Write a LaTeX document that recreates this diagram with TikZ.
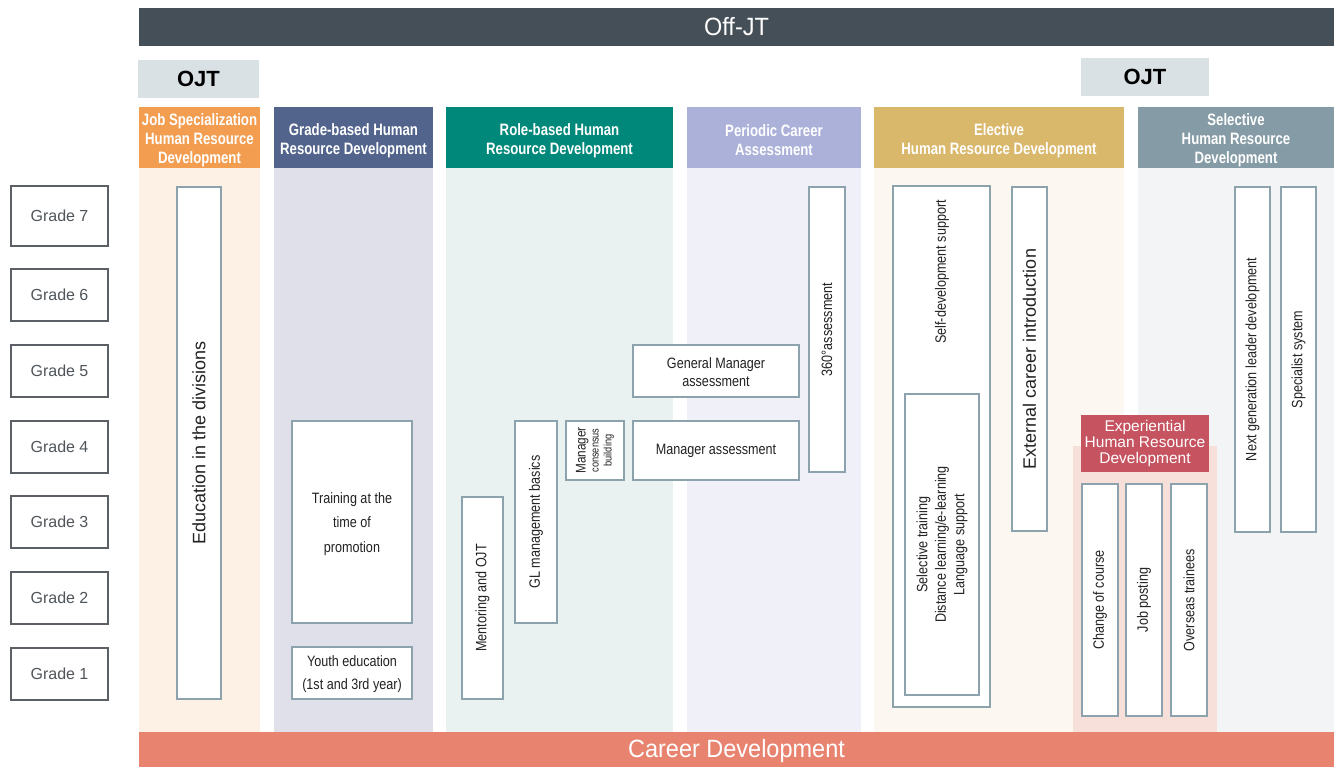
\documentclass[tikz,border=0pt]{standalone}
\usepackage{fontspec}
\setmainfont{Liberation Sans}
\newfontfamily\cnd[FakeStretch=0.84]{Liberation Sans}
\newfontfamily\hdf[FakeStretch=0.8]{Liberation Sans}
\newfontfamily\widef[FakeStretch=0.94]{Liberation Sans}
\definecolor{offjtc}{HTML}{454F57}
\definecolor{ojtc}{HTML}{DAE1E4}
\definecolor{jobh}{HTML}{F39D51}
\definecolor{jobb}{HTML}{FDF1E5}
\definecolor{grdh}{HTML}{52648C}
\definecolor{grdb}{HTML}{E0E0EA}
\definecolor{roleh}{HTML}{00897A}
\definecolor{roleb}{HTML}{E9F2F1}
\definecolor{perh}{HTML}{ABB1D9}
\definecolor{perb}{HTML}{F0F0F9}
\definecolor{elh}{HTML}{D9B76B}
\definecolor{elb}{HTML}{FCF7F1}
\definecolor{selh}{HTML}{859BA6}
\definecolor{selb}{HTML}{F3F4F6}
\definecolor{exh}{HTML}{C55360}
\definecolor{exb}{HTML}{F8E0DA}
\definecolor{carc}{HTML}{E88370}
\definecolor{boxc}{HTML}{8CA3AE}
\definecolor{grdbox}{HTML}{5A6066}
\definecolor{grdtxt}{HTML}{4F555A}
\definecolor{txtc}{HTML}{222222}
\begin{document}
\begin{tikzpicture}[x=1pt,y=-1pt,
  bar/.style={fill=#1, inner sep=0pt, text=white},
  hdr/.style={fill=#1, inner sep=0pt, minimum height=61pt},
  hdrtxt/.style={inner sep=0pt, text=white, align=center, yshift=-3pt,
    font=\hdf\bfseries\fontsize{16.5}{19}\selectfont},
  ojtbox/.style={fill=ojtc, inner sep=0pt, text=black,
    font=\bfseries\fontsize{22}{22}\selectfont},
  gradebox/.style={draw=grdbox, line width=1.3pt, fill=white, inner sep=0pt,
    minimum width=97pt, text=grdtxt, font=\fontsize{16}{16}\selectfont},
  itembox/.style={draw=boxc, line width=1.3pt, fill=white, inner sep=0pt,
    text=txtc, align=center, font=\cnd\fontsize{15}{24.5}\selectfont},
  vbox/.style={itembox, rotate=90},
  lbl/.style={inner sep=0pt, text=txtc, align=center, font=\cnd\fontsize{15}{18.5}\selectfont}
]
\useasboundingbox (0,0) rectangle (1339,767);

% column bodies
\fill[jobb] (139,168) rectangle (260,732);
\fill[grdb] (274,168) rectangle (433,732);
\fill[roleb] (446,168) rectangle (673,732);
\fill[perb] (687,168) rectangle (861,732);
\fill[elb] (874,168) rectangle (1124,732);
\fill[selb] (1138,168) rectangle (1334,732);
\fill[exb] (1073,446) rectangle (1217,732);

% top bars
\node[bar=offjtc, minimum width=1195pt, minimum height=38pt,
  font=\widef\fontsize{25}{25}\selectfont] (offjt) at (736.5,27) {Off-JT};
\node[ojtbox, minimum width=121pt, minimum height=38pt] (ojt1) at (198.5,79) {OJT};
\node[ojtbox, minimum width=128pt, minimum height=38pt] (ojt2) at (1145,77) {OJT};

% headers
\node[hdr=jobh, minimum width=121pt,
  label={[hdrtxt]center:{Job Specialization\\Human Resource\\Development}}] (hjob) at (199.5,137.5) {};
\node[hdr=grdh, minimum width=159pt,
  label={[hdrtxt]center:{Grade-based Human\\Resource Development}}] (hgrd) at (353.5,137.5) {};
\node[hdr=roleh, minimum width=227pt,
  label={[hdrtxt]center:{Role-based Human\\Resource Development}}] (hrole) at (559.5,137.5) {};
\node[hdr=perh, minimum width=174pt,
  label={[hdrtxt]center:{Periodic Career\\Assessment}}] (hper) at (774,137.5) {};
\node[hdr=elh, minimum width=250pt,
  label={[hdrtxt]center:{Elective\\Human Resource Development}}] (hel) at (999,137.5) {};
\node[hdr=selh, minimum width=196pt,
  label={[hdrtxt]center:{Selective\\Human Resource\\Development}}] (hsel) at (1236,137.5) {};

% experiential header
\node[fill=exh, inner sep=0pt, text=white, align=center, minimum width=128pt,
  minimum height=57pt, font=\fontsize{15.5}{16}\selectfont] (hex) at (1145,443.5)
  {Experiential\\Human Resource\\Development};

% career development bar
\node[bar=carc, minimum width=1195pt, minimum height=35pt,
  label={[inner sep=0pt, text=white, yshift=-2pt, font=\widef\fontsize{25}{25}\selectfont]center:Career Development}]
  (career) at (736.5,749.5) {};

% grade boxes
\node[gradebox, minimum height=60pt] (g7) at (59.5,216) {Grade 7};
\node[gradebox, minimum height=52pt] (g6) at (59.5,295) {Grade 6};
\node[gradebox, minimum height=52pt] (g5) at (59.5,371) {Grade 5};
\node[gradebox, minimum height=52pt] (g4) at (59.5,447) {Grade 4};
\node[gradebox, minimum height=52pt] (g3) at (59.5,522) {Grade 3};
\node[gradebox, minimum height=52pt] (g2) at (59.5,598) {Grade 2};
\node[gradebox, minimum height=52pt] (g1) at (59.5,674) {Grade 1};

% job specialization
\node[vbox, minimum width=512pt, minimum height=44pt,
  font=\fontsize{18}{18}\selectfont] (edu) at (199,443) {Education in the divisions};

% grade-based
\node[itembox, minimum width=120pt, minimum height=202pt] (train) at (352,522) {};
\node[lbl, font=\cnd\fontsize{15}{24.5}\selectfont, yshift=-2pt] (traint) at (train.center)
  {Training at the\\time of\\promotion};
\node[itembox, minimum width=120pt, minimum height=52pt] (youth) at (352,673) {};
\node[lbl, font=\cnd\fontsize{15}{23}\selectfont, yshift=-1.5pt] (youtht) at (youth.center)
  {Youth education\\(1st and 3rd year)};

% role-based
\node[vbox, minimum width=202pt, minimum height=41pt] (mentor) at (482.5,598) {Mentoring and OJT};
\node[vbox, minimum width=202pt, minimum height=42pt] (gl) at (536,522) {GL management basics};
\node[vbox, minimum width=59pt, minimum height=58pt, font=\cnd\fontsize{14}{13}\selectfont] (mcb) at (595,450.5)
  {Manager\\{\fontsize{11}{10.5}\selectfont consensus}\\{\fontsize{11}{10.5}\selectfont building}};
\node[itembox, minimum width=166pt, minimum height=59pt] (mgr) at (716,450.5) {Manager assessment};
\node[itembox, minimum width=166pt, minimum height=52pt] (gm) at (716,371) {};
\node[lbl, font=\cnd\fontsize{15}{18}\selectfont, yshift=-1.5pt] (gmt) at (gm.center)
  {General Manager\\assessment};

% periodic
\node[vbox, minimum width=285pt, minimum height=36pt] (a360) at (827,329.5) {360°assessment};

% elective
\node[itembox, minimum width=97pt, minimum height=521pt] (selfout) at (941.5,446.5) {};
\node[lbl, rotate=90] (selft) at (942,272) {Self-development support};
\node[itembox, minimum width=74pt, minimum height=301pt] (inner) at (942,544.5) {};
\node[lbl, rotate=90] (innert) at (inner.center)
  {Selective training\\Distance learning/e-learning\\Language support};
\node[vbox, minimum width=344pt, minimum height=35pt,
  font=\fontsize{18}{18}\selectfont] (ext) at (1029.5,359) {External career introduction};

% experiential
\node[vbox, minimum width=232pt, minimum height=36pt] (chg) at (1100,600) {Change of course};
\node[vbox, minimum width=232pt, minimum height=36pt] (jp) at (1144,600) {Job posting};
\node[vbox, minimum width=232pt, minimum height=36pt] (ovs) at (1189,600) {Overseas trainees};

% selective
\node[vbox, minimum width=345pt, minimum height=35pt] (ngl) at (1252.5,359.5) {Next generation leader development};
\node[vbox, minimum width=345pt, minimum height=35pt] (spc) at (1298.5,359.5) {Specialist system};
\end{tikzpicture}
\end{document}
